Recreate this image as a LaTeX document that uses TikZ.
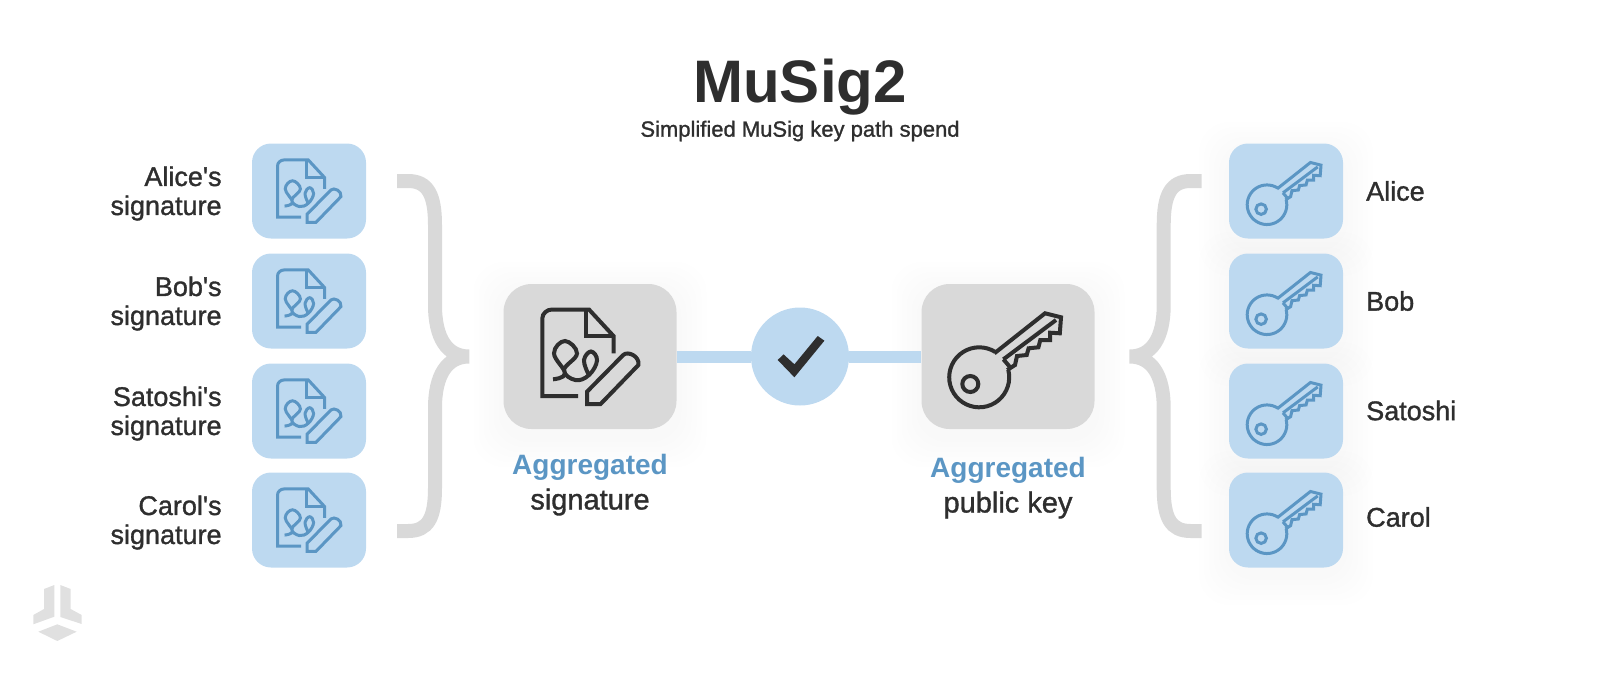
\documentclass[tikz,border=0pt]{standalone}
\usepackage{fontspec}
\usepackage{xcolor}
\setmainfont{Liberation Sans}
\newfontfamily\medfont[FakeBold=1.2]{Liberation Sans}
\usetikzlibrary{positioning,calc}
\definecolor{tileblue}{HTML}{BDD9F0}
\definecolor{inkblue}{HTML}{5B96C4}
\definecolor{tilegrey}{HTML}{D9D9D9}
\definecolor{inkdark}{HTML}{2E2E2E}
\tikzset{
    smalltile/.style={rectangle, rounded corners=19pt, fill=tileblue, minimum width=114pt, minimum height=95pt, inner sep=0pt},
    bigtile/.style={rectangle, rounded corners=28pt, fill=tilegrey, minimum width=173pt, minimum height=145pt, inner sep=0pt},
    whotext/.style={font=\medfont\fontsize{27}{29}\selectfont, text=inkdark, inner sep=0pt},
    aggtext/.style={font=\medfont\fontsize{29}{35}\selectfont, text=inkdark, inner sep=0pt, align=center, anchor=north},
    smallicon/.style={draw=inkblue, line width=3pt, scale=0.66},
    bigicon/.style={draw=inkdark, line width=4pt},
    sigicon/.pic={
        \draw[pic actions] (-12,39.5) -- (-47.7,39.5) -- (-47.7,-38) .. controls (-47.7,-43) and (-43,-47) .. (-38,-47) -- (-1,-47) -- (23.5,-20.5) -- (23.5,-3.2);
        \draw[pic actions] (-3.8,-47) -- (-3.8,-20.5) -- (23.5,-20.5);
        \draw[pic actions] plot[smooth, tension=0.7] coordinates {(-37,22.8) (-25,17) (-36,-3.2) (-25,-15.5) (-13,-3) (-26,13.5) (-14.7,23.5) (-1,18.5) (7,4) (1,-5) (-6,3.5) (-2,16.8)};
        \draw[pic actions] (-3,47.5) -- (-3,35.2) -- (33.2,-1.5) .. controls (38,-6) and (50,0) .. (48.4,8.5) -- (10.6,47.5) -- cycle;
    },
    keyicon/.pic={
        \draw[pic actions] (-13.6,-3.2) -- (37,-43.2) -- (53,-39.2) -- (51.8,-23.2) -- (42,-23.8) -- (42,-16.5) -- (32.3,-16.5) -- (30.4,-9.2) -- (20.6,-8.2) -- (18.7,-1.5) -- (9,-0.5) -- (7,8.5) -- (-0.8,13.5);
        \draw[pic actions] plot[smooth, domain=-57.6:-374.6, samples=40] ({-28.8+30*cos(\x)},{20.8+30*sin(\x)});
        \draw[pic actions] (-4.6,2.8) -- (48,-36.5);
        \draw[pic actions] (-4.6,2.8) -- (3,11.8);
        \draw[pic actions] (-37.7,27.5) circle (8);
    }
}
% faint glow under a tile
\newcommand{\softglow}[4]{
    \foreach \g in {5,10,...,30}
        \fill[black, opacity=0.004, rounded corners=30pt] (#1-\g,#2-\g+8) rectangle (#3+\g,#4+\g+8);
}
\begin{document}
\begin{tikzpicture}[x=1pt, y=-1pt]
    \useasboundingbox (0,0) rectangle (1600,673);
    \softglow{921.5}{284}{1094.5}{429}
    \softglow{503.5}{284}{676.5}{429}
    \foreach \y in {191,301,411,520}{
        \softglow{1229}{\y-47}{1343}{\y+47}
    }

    \node[font=\bfseries\fontsize{60}{60}\selectfont, text=inkdark, inner sep=0pt] (title) at (800,87) {MuSig2};
    \node[font=\medfont\fontsize{22}{24}\selectfont, text=inkdark, inner sep=0pt] (subtitle) at (800,131) {Simplified MuSig key path spend};

    % signature column and key column
    \foreach \y/\ty/\who in {191/191/Alice,301/301/Bob,411/410.5/Satoshi,520/517/Carol}{
        \node[smalltile] (sig\who) at (309,\y) {};
        \pic[smallicon] at (sig\who) {sigicon};
        \node[whotext, align=right, left=30pt of sig\who, yshift=-2.5pt] (sigtext\who) {\who's\\signature};
        \node[smalltile] (key\who) at (1286,\y) {};
        \pic[smallicon] at (key\who) {keyicon};
        \node[whotext, anchor=west] (keytext\who) at (1366,\ty) {\who};
    }

    % braces
    \draw[tilegrey, line width=14pt] (397,181) -- (408,181) .. controls (428,181) and (435,195) .. (435,225) -- (435,305) .. controls (435,338) and (447,356.5) .. (469,356.5) .. controls (447,356.5) and (435,375) .. (435,408) -- (435,488) .. controls (435,518) and (428,531) .. (408,531) -- (397,531);
    \draw[tilegrey, line width=14pt] (1201.7,181) -- (1190.7,181) .. controls (1170.7,181) and (1163.7,195) .. (1163.7,225) -- (1163.7,305) .. controls (1163.7,338) and (1151.7,356.5) .. (1129.7,356.5) .. controls (1151.7,356.5) and (1163.7,375) .. (1163.7,408) -- (1163.7,488) .. controls (1163.7,518) and (1170.7,531) .. (1190.7,531) -- (1201.7,531);

    \node[bigtile] (aggsig) at (590,356.5) {};
    \node[bigtile] (aggkey) at (1008,356.5) {};
    \node[circle, fill=tileblue, minimum size=98pt, inner sep=0pt] (check) at (800,356.5) {};
    \draw[tileblue, line width=12pt] (aggsig) -- (check);
    \draw[tileblue, line width=12pt] (check) -- (aggkey);
    \pic[bigicon] at (aggsig) {sigicon};
    \pic[bigicon] at (aggkey) {keyicon};
    \fill[inkdark] ($(check)+(-22.3,3.5)$) -- ++(5.8,-5.7) -- ++(10.9,10) -- ++(23.3,-28.3) -- ++(6.7,4.7) -- ++(-30,36.6) -- cycle;

    \node[aggtext] (aggsigtext) at (590,454) {\textcolor{inkblue}{\normalfont\bfseries\fontsize{28}{35}\selectfont Aggregated}\\signature};
    \node[aggtext] (aggkeytext) at (1008,457) {\textcolor{inkblue}{\normalfont\bfseries\fontsize{28}{35}\selectfont Aggregated}\\public key};

    % logo
    \fill[black!12] (33.3,615) -- (44,609) -- (44,589) -- (54.3,585) -- (54.3,616.7) -- (33.3,624.3) -- cycle;
    \fill[black!12] (60.3,585) -- (70.7,589) -- (70.7,609) -- (81.7,615) -- (81.7,624) -- (60.3,617) -- cycle;
    \fill[black!12] (38.3,631.7) -- (57.3,624.3) -- (76.7,631.7) -- (57.3,641) -- cycle;
\end{tikzpicture}
\end{document}
